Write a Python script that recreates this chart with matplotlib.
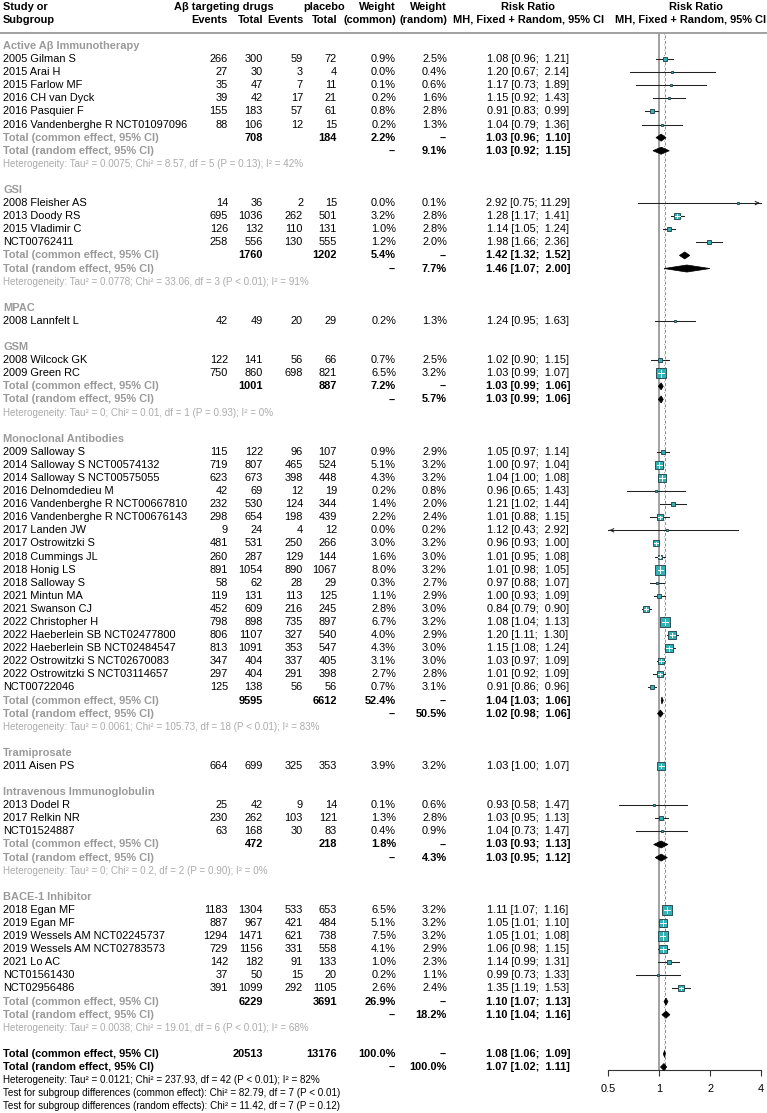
import matplotlib
matplotlib.use("Agg")
import matplotlib.pyplot as plt
import numpy as np

plt.rcParams['font.family'] = ['Liberation Sans', 'DejaVu Sans']

# ---------------- data ----------------
subgroups = ["Active Aβ Immunotherapy", "GSI", "MPAC", "GSM", "Monoclonal Antibodies",
             "Tramiprosate", "Intravenous Immunoglobulin", "BACE-1 Inhibitor"]

study = [
    "2005 Gilman S", "2015 Arai H", "2015 Farlow MF", "2016 CH van Dyck", "2016 Pasquier F",
    "2016 Vandenberghe R NCT01097096",
    "2008 Fleisher AS", "2013 Doody RS", "2015 Vladimir C", "NCT00762411",
    "2008 Lannfelt L",
    "2008 Wilcock GK", "2009 Green RC",
    "2009 Salloway S", "2014 Salloway S NCT00574132", "2014 Salloway S NCT00575055",
    "2016 Delnomdedieu M", "2016 Vandenberghe R NCT00667810", "2016 Vandenberghe R NCT00676143",
    "2017 Landen JW", "2017 Ostrowitzki S", "2018 Cummings JL", "2018 Honig LS", "2018 Salloway S",
    "2021 Mintun MA", "2021 Swanson CJ", "2022 Christopher H", "2022 Haeberlein SB NCT02477800",
    "2022 Haeberlein SB NCT02484547", "2022 Ostrowitzki S NCT02670083",
    "2022 Ostrowitzki S NCT03114657", "NCT00722046",
    "2011 Aisen PS",
    "2013 Dodel R", "2017 Relkin NR", "NCT01524887",
    "2018 Egan MF", "2019 Egan MF", "2019 Wessels AM NCT02245737", "2019 Wessels AM NCT02783573",
    "2021 Lo AC", "NCT01561430", "NCT02956486",
]
group_idx = [0]*6 + [1]*4 + [2] + [3]*2 + [4]*19 + [5] + [6]*3 + [7]*7

ev_e = [266, 27, 35, 39, 155, 88,
        14, 695, 126, 258,
        42,
        122, 750,
        115, 719, 623, 42, 232, 298, 9, 481, 260, 891, 58, 119, 452, 798, 806, 813, 347, 297, 125,
        664,
        25, 230, 63,
        1183, 887, 1294, 729, 142, 37, 391]
n_e = [300, 30, 47, 42, 183, 106,
       36, 1036, 132, 556,
       49,
       141, 860,
       122, 807, 673, 69, 530, 654, 24, 531, 287, 1054, 62, 131, 609, 898, 1107, 1091, 404, 404, 138,
       699,
       42, 262, 168,
       1304, 967, 1471, 1156, 182, 50, 1099]
ev_c = [59, 3, 7, 17, 57, 12,
        2, 262, 110, 130,
        20,
        56, 698,
        96, 465, 398, 12, 124, 198, 4, 250, 129, 890, 28, 113, 216, 735, 327, 353, 337, 291, 56,
        325,
        9, 103, 30,
        533, 421, 621, 331, 91, 15, 292]
n_c = [72, 4, 11, 21, 61, 15,
       15, 501, 131, 555,
       29,
       66, 821,
       107, 524, 448, 19, 344, 439, 12, 266, 144, 1067, 29, 125, 245, 897, 540, 547, 405, 398, 56,
       353,
       14, 121, 83,
       653, 484, 738, 558, 133, 20, 1105]
w_common = [0.9, 0.0, 0.1, 0.2, 0.8, 0.2,
            0.0, 3.2, 1.0, 1.2,
            0.2,
            0.7, 6.5,
            0.9, 5.1, 4.3, 0.2, 1.4, 2.2, 0.0, 3.0, 1.6, 8.0, 0.3, 1.1, 2.8, 6.7, 4.0, 4.3, 3.1, 2.7, 0.7,
            3.9,
            0.1, 1.3, 0.4,
            6.5, 5.1, 7.5, 4.1, 1.0, 0.2, 2.6]
w_random = [2.5, 0.4, 0.6, 1.6, 2.8, 1.3,
            0.1, 2.8, 2.8, 2.0,
            1.3,
            2.5, 3.2,
            2.9, 3.2, 3.2, 0.8, 2.0, 2.4, 0.2, 3.2, 3.0, 3.2, 2.7, 2.9, 3.0, 3.2, 2.9, 3.0, 3.0, 2.8, 3.1,
            3.2,
            0.6, 2.8, 0.9,
            3.2, 3.2, 3.2, 2.9, 2.3, 1.1, 2.4]
rr = [1.08, 1.20, 1.17, 1.15, 0.91, 1.04,
      2.92, 1.28, 1.14, 1.98,
      1.24,
      1.02, 1.03,
      1.05, 1.00, 1.04, 0.96, 1.21, 1.01, 1.12, 0.96, 1.01, 1.01, 0.97, 1.00, 0.84, 1.08, 1.20, 1.15, 1.03, 1.01, 0.91,
      1.03,
      0.93, 1.03, 1.04,
      1.11, 1.05, 1.05, 1.06, 1.14, 0.99, 1.35]
rr_lo = [0.96, 0.67, 0.73, 0.92, 0.83, 0.79,
         0.75, 1.17, 1.05, 1.66,
         0.95,
         0.90, 0.99,
         0.97, 0.97, 1.00, 0.65, 1.02, 0.88, 0.43, 0.93, 0.95, 0.98, 0.88, 0.93, 0.79, 1.04, 1.11, 1.08, 0.97, 0.92, 0.86,
         1.00,
         0.58, 0.95, 0.73,
         1.07, 1.01, 1.01, 0.98, 0.99, 0.73, 1.19]
rr_hi = [1.21, 2.14, 1.89, 1.43, 0.99, 1.36,
         11.29, 1.41, 1.24, 2.36,
         1.63,
         1.15, 1.07,
         1.14, 1.04, 1.08, 1.43, 1.44, 1.15, 2.92, 1.00, 1.08, 1.05, 1.07, 1.09, 0.90, 1.13, 1.30, 1.24, 1.09, 1.09, 0.96,
         1.07,
         1.47, 1.13, 1.47,
         1.16, 1.10, 1.08, 1.15, 1.31, 1.33, 1.53]

# subgroup totals (None = single-study subgroup, no pooled rows)
sg_n_e = [708, 1760, None, 1001, 9595, None, 472, 6229]
sg_n_c = [184, 1202, None, 887, 6612, None, 218, 3691]
sg_w_common = [2.2, 5.4, None, 7.2, 52.4, None, 1.8, 26.9]
sg_w_random = [9.1, 7.7, None, 5.7, 50.5, None, 4.3, 18.2]
sg_rr_c = [1.03, 1.42, None, 1.03, 1.04, None, 1.03, 1.10]
sg_lo_c = [0.96, 1.32, None, 0.99, 1.03, None, 0.93, 1.07]
sg_hi_c = [1.10, 1.52, None, 1.06, 1.06, None, 1.13, 1.13]
sg_rr_r = [1.03, 1.46, None, 1.03, 1.02, None, 1.03, 1.10]
sg_lo_r = [0.92, 1.07, None, 0.99, 0.98, None, 0.95, 1.04]
sg_hi_r = [1.15, 2.00, None, 1.06, 1.06, None, 1.12, 1.16]
sg_het = [
    "Heterogeneity: Tau² = 0.0075; Chi² = 8.57, df = 5 (P = 0.13); I² = 42%",
    "Heterogeneity: Tau² = 0.0778; Chi² = 33.06, df = 3 (P < 0.01); I² = 91%",
    None,
    "Heterogeneity: Tau² = 0; Chi² = 0.01, df = 1 (P = 0.93); I² = 0%",
    "Heterogeneity: Tau² = 0.0061; Chi² = 105.73, df = 18 (P < 0.01); I² = 83%",
    None,
    "Heterogeneity: Tau² = 0; Chi² = 0.2, df = 2 (P = 0.90); I² = 0%",
    "Heterogeneity: Tau² = 0.0038; Chi² = 19.01, df = 6 (P < 0.01); I² = 68%",
]

tot_n_e, tot_n_c = 20513, 13176
tot_rr_c, tot_lo_c, tot_hi_c = 1.08, 1.06, 1.09
tot_rr_r, tot_lo_r, tot_hi_r = 1.07, 1.02, 1.11
tot_notes = [
    "Heterogeneity: Tau² = 0.0121; Chi² = 237.93, df = 42 (P < 0.01); I² = 82%",
    "Test for subgroup differences (common effect): Chi² = 82.79, df = 7 (P < 0.01)",
    "Test for subgroup differences (random effects): Chi² = 11.42, df = 7 (P = 0.12)",
]
x_ticks = [0.5, 1, 2, 4]
x_tick_labels = ["0.5", "1", "2", "4"]

# ---------------- layout ----------------
W, H, DPI = 767, 1113, 100
Y0, P = 46.0, 13.09          # pixel y of row 0, row pitch
TOP_LINE, AXIS_Y = 33.0, 1070.0
FX0, FX1 = 608.0, 761.0      # forest x-extent in pixels
GRAY = "#9a9a9a"
HETGRAY = "#ababab"
FS = 7.9
FS_HET = 7.1
FS_NOTE = 7.1
SQ_FILL = "#33b2b6"
SQ_EDGE = "#2c4f55"

fig = plt.figure(figsize=(W / DPI, H / DPI), dpi=DPI)
tax = fig.add_axes([0, 0, 1, 1])
tax.set_xlim(0, W)
tax.set_ylim((H - Y0) / P, -Y0 / P)
tax.axis("off")

fax = fig.add_axes([FX0 / W, 1 - AXIS_Y / H, (FX1 - FX0) / W, (AXIS_Y - TOP_LINE) / H])
fax.set_xscale("log", base=2)
fax.set_xlim(x_ticks[0], x_ticks[-1])
fax.set_ylim((AXIS_Y - Y0) / P, (TOP_LINE - Y0) / P)
fax.patch.set_alpha(0)
for s in ["top", "right", "left"]:
    fax.spines[s].set_visible(False)
fax.spines["bottom"].set_linewidth(0.8)
fax.spines["bottom"].set_color("#333333")
fax.set_yticks([])
fax.set_xticks(x_ticks)
fax.set_xticklabels(x_tick_labels, fontsize=FS)
fax.xaxis.set_minor_locator(matplotlib.ticker.NullLocator())
fax.tick_params(axis="x", length=4, width=0.8, color="#333333", pad=6)

px_per_log2 = (FX1 - FX0) / (np.log2(x_ticks[-1]) - np.log2(x_ticks[0]))

# column right edges (pixels); CI column is centred
C_EVE, C_NE, C_EVC, C_NC, C_WC, C_WR = 228, 263, 303, 337, 396, 447
C_CI = 528
C_RR2 = 696


def ci_text(e, l, h):
    return f"{e:.2f} [{l:.2f}; {h:5.2f}]"


def txt(x, r, s, ha="right", bold=False, color="black", fs=FS):
    tax.text(x, r, s, ha=ha, va="center", fontsize=fs, color=color,
             fontweight="bold" if bold else "normal")


def diamond(e, l, h, r, hh=0.27):
    fax.fill([l, e, h, e], [r, r - hh, r, r + hh], color="black", lw=0.5, zorder=4, clip_on=False)


def study_mark(e, l, h, w, r):
    lo_c, hi_c = max(l, x_ticks[0]), min(h, x_ticks[-1])
    fax.plot([lo_c, hi_c], [r, r], color="#222222", lw=0.75, zorder=2, clip_on=False)
    if h > x_ticks[-1]:
        fax.annotate("", xy=(x_ticks[-1] * 1.02, r), xytext=(x_ticks[-1] * 0.93, r),
                     arrowprops=dict(arrowstyle="->", lw=0.75, color="#222222", mutation_scale=6),
                     annotation_clip=False)
    if l < x_ticks[0]:
        fax.annotate("", xy=(x_ticks[0] * 0.98, r), xytext=(x_ticks[0] * 1.07, r),
                     arrowprops=dict(arrowstyle="->", lw=0.75, color="#222222", mutation_scale=6),
                     annotation_clip=False)
    side = max(2.0, 3.6 * np.sqrt(w))
    fax.plot([e], [r], marker="s", ms=side * 72 / DPI, mfc=SQ_FILL, mec=SQ_EDGE, mew=0.7,
             zorder=3, clip_on=False)
    if side > 4.5:
        d = (side / 2 - 0.8) / px_per_log2
        a, b = max(l, e * 2 ** (-d)), min(h, e * 2 ** d)
        fax.plot([a, b], [r, r], color="white", lw=0.7, zorder=3.5, clip_on=False)
        hv = (side / 2 - 1.2) / P
        fax.plot([e, e], [r - hv, r + hv], color="white", lw=0.7, zorder=3.5, clip_on=False)


# header
txt(3, -3, "Study or", ha="left", bold=True)
txt(3, -2, "Subgroup", ha="left", bold=True)
txt((C_EVE - 36 + C_NE) / 2 - 4, -3, "Aβ targeting drugs", ha="center", bold=True)
txt(C_NC + 8, -3, "placebo", bold=True)
txt(C_EVE, -2, "Events", bold=True)
txt(C_NE, -2, "Total", bold=True)
txt(C_EVC, -2, "Events", bold=True)
txt(C_NC, -2, "Total", bold=True)
txt(C_WC, -3, "Weight", bold=True)
txt(C_WC, -2, "(common)", bold=True)
txt(C_WR, -3, "Weight", bold=True)
txt(C_WR, -2, "(random)", bold=True)
txt(C_CI, -3, "Risk Ratio", ha="center", bold=True)
txt(C_CI + 1, -2, "MH, Fixed + Random, 95% CI", ha="center", bold=True)
txt(C_RR2, -3, "Risk Ratio", ha="center", bold=True)
txt(766, -2, "MH, Fixed + Random, 95% CI", bold=True)
tax.axhline(-1, color=GRAY, lw=1.3)

fax.axvline(1, color="#9a9a9a", lw=1.3, zorder=1)
fax.axvline(tot_rr_c, color="#8a8a8a", lw=0.7, ls=(0, (3, 2.5)), zorder=1)
fax.axvline(tot_rr_r, color="#8a8a8a", lw=0.7, ls=(1.5, (0.8, 4.7)), zorder=1)

row = 0
for g, name in enumerate(subgroups):
    txt(3, row, name, ha="left", bold=True, color=GRAY)
    row += 1
    for i in [k for k, gi in enumerate(group_idx) if gi == g]:
        txt(3, row, study[i], ha="left")
        txt(C_EVE, row, str(ev_e[i]))
        txt(C_NE, row, str(n_e[i]))
        txt(C_EVC, row, str(ev_c[i]))
        txt(C_NC, row, str(n_c[i]))
        txt(C_WC, row, f"{w_common[i]:.1f}%")
        txt(C_WR, row, f"{w_random[i]:.1f}%")
        txt(C_CI, row, ci_text(rr[i], rr_lo[i], rr_hi[i]), ha="center")
        study_mark(rr[i], rr_lo[i], rr_hi[i], w_common[i], row)
        row += 1
    if sg_n_e[g] is not None:
        txt(3, row, "Total (common effect, 95% CI)", ha="left", bold=True, color=GRAY)
        txt(C_NE, row, str(sg_n_e[g]), bold=True)
        txt(C_NC, row, str(sg_n_c[g]), bold=True)
        txt(C_WC, row, f"{sg_w_common[g]:.1f}%", bold=True)
        txt(C_WR, row, "--", bold=True)
        txt(C_CI, row, ci_text(sg_rr_c[g], sg_lo_c[g], sg_hi_c[g]), ha="center", bold=True)
        diamond(sg_rr_c[g], sg_lo_c[g], sg_hi_c[g], row)
        row += 1
        txt(3, row, "Total (random effect, 95% CI)", ha="left", bold=True, color=GRAY)
        txt(C_WC, row, "--", bold=True)
        txt(C_WR, row, f"{sg_w_random[g]:.1f}%", bold=True)
        txt(C_CI, row, ci_text(sg_rr_r[g], sg_lo_r[g], sg_hi_r[g]), ha="center", bold=True)
        diamond(sg_rr_r[g], sg_lo_r[g], sg_hi_r[g], row)
        row += 1
        txt(3, row, sg_het[g], ha="left", color=HETGRAY, fs=FS_HET)
        row += 1
    row += 1

txt(3, row, "Total (common effect, 95% CI)", ha="left", bold=True)
txt(C_NE, row, str(tot_n_e), bold=True)
txt(C_NC, row, str(tot_n_c), bold=True)
txt(C_WC, row, "100.0%", bold=True)
txt(C_WR, row, "--", bold=True)
txt(C_CI, row, ci_text(tot_rr_c, tot_lo_c, tot_hi_c), ha="center", bold=True)
diamond(tot_rr_c, tot_lo_c, tot_hi_c, row)
row += 1
txt(3, row, "Total (random effect, 95% CI)", ha="left", bold=True)
txt(C_WC, row, "--", bold=True)
txt(C_WR, row, "100.0%", bold=True)
txt(C_CI, row, ci_text(tot_rr_r, tot_lo_r, tot_hi_r), ha="center", bold=True)
diamond(tot_rr_r, tot_lo_r, tot_hi_r, row)
row += 1
for note in tot_notes:
    txt(3, row, note, ha="left", fs=FS_NOTE)
    row += 1

fig.savefig("out.png", dpi=DPI)
